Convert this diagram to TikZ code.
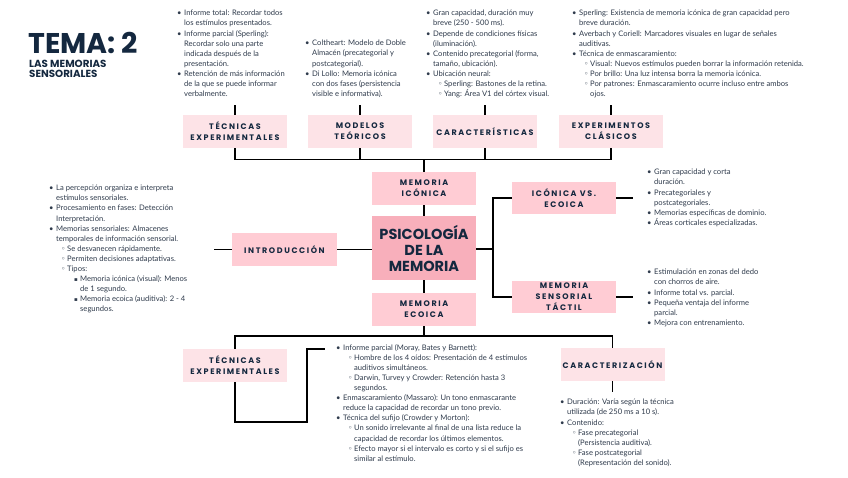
\documentclass[tikz,border=0pt]{standalone}
\usepackage{fontspec}
\setmainfont{Lato}
\newfontfamily\popp{Poppins}
\newfontfamily\boxf[LetterSpace=20]{Poppins}
\newfontfamily\symf{DejaVu Sans}
\definecolor{navy}{HTML}{14283F}
\definecolor{bodyc}{HTML}{2F3B4C}
\definecolor{pinkA}{HTML}{FDE3E7}
\definecolor{pinkB}{HTML}{FFCCD4}
\definecolor{pinkC}{HTML}{F8AFBB}
\newcommand\Ba{\makebox[7pt][l]{•}}
\newcommand\Ca{\hspace*{7pt}}
\newcommand\Bb{\hspace*{12pt}\makebox[6pt][l]{{\symf\fontsize{7.5}{7}\selectfont ◦}}}
\newcommand\Cb{\hspace*{18pt}}
\newcommand\Bc{\hspace*{25pt}\makebox[6pt][l]{{\symf\fontsize{5.5}{5}\selectfont ▪}}}
\newcommand\Cc{\hspace*{31pt}}
\tikzset{
  lbl/.style={rectangle, minimum width=104pt, minimum height=33pt, inner sep=0pt, align=center,
    text=navy, font=\boxf\bfseries\fontsize{8}{11}\selectfont},
  lite/.style={lbl, fill=pinkA},
  mid/.style={lbl, fill=pinkB},
  txt/.style={anchor=north west, inner sep=0pt, align=left, text=bodyc,
    font=\fontsize{7.6}{10.1}\selectfont},
  sub/.style={anchor=base west, inner sep=0pt, text depth=0pt, text=navy, font=\popp\bfseries\fontsize{10.3}{10}\selectfont},
  con/.style={draw=black, line width=1.6pt}
}
\begin{document}
\begin{tikzpicture}[x=1pt,y=-1pt]
\useasboundingbox (0,0) rectangle (848,477);
\fill[white] (0,0) rectangle (848,477);

% title
\node[anchor=base west, inner sep=0pt, text depth=0pt, text=navy, font=\popp\bfseries\fontsize{28.5}{28.5}\selectfont] (title) at (28,53) {TEMA: 2};
\node[sub] (sub1) at (29,67.5) {LAS MEMORIAS};
\node[sub] (sub2) at (29,77) {SENSORIALES};

% top boxes
\node[lite] (tecA) at (235,131.5) {TÉCNICAS\\EXPERIMENTALES};
\node[lite] (modA) at (360,131.5) {MODELOS\\TEÓRICOS};
\node[lite] (carA) at (485,131.5) {CARACTERÍSTICAS};
\node[lite] (expA) at (611,131.5) {EXPERIMENTOS\\CLÁSICOS};

% central column
\node[mid] (icon) at (424,188.5) {MEMORIA\\ICÓNICA};
\node[rectangle, fill=pinkC, minimum width=104pt, minimum height=64pt, inner sep=0pt, align=center,
  text=navy, font=\popp\bfseries\fontsize{14.5}{16}\selectfont] (center) at (424,248) {PSICOLOGÍA\\DE LA\\MEMORIA};
\node[mid] (ecoi) at (424,309.5) {MEMORIA\\ECOICA};
\node[mid, minimum width=105pt] (intro) at (284.5,249.5) {INTRODUCCIÓN};
\node[mid, minimum height=32pt] (icvs) at (564,198) {ICÓNICA VS.\\ECOICA};
\node[mid, minimum height=32pt] (tact) at (564,297) {MEMORIA\\SENSORIAL\\TÁCTIL};

% bottom boxes
\node[lite] (tecB) at (235,365.5) {TÉCNICAS\\EXPERIMENTALES};
\node[lite] (carB) at (612.5,364.5) {CARACTERIZACIÓN};

% text blocks
\node[txt] (txA) at (177,10) {\Ba Informe total: Recordar todos\\
\Ca los estímulos presentados.\\
\Ba Informe parcial (Sperling):\\
\Ca Recordar solo una parte\\
\Ca indicada después de la\\
\Ca presentación.\\
\Ba Retención de más información\\
\Ca de la que se puede informar\\
\Ca verbalmente.};

\node[txt] (txB) at (305,40) {\Ba Coltheart: Modelo de Doble\\
\Ca Almacén (precategorial y\\
\Ca postcategorial).\\
\Ba Di Lollo: Memoria icónica\\
\Ca con dos fases (persistencia\\
\Ca visible e informativa).};

\node[txt] (txC) at (426,10) {\Ba Gran capacidad, duración muy\\
\Ca breve (250 - 500 ms).\\
\Ba Depende de condiciones físicas\\
\Ca (iluminación).\\
\Ba Contenido precategorial (forma,\\
\Ca tamaño, ubicación).\\
\Ba Ubicación neural:\\
\Bb Sperling: Bastones de la retina.\\
\Bb Yang: Área V1 del córtex visual.};

\node[txt] (txD) at (572,10) {\Ba Sperling: Existencia de memoria icónica de gran capacidad pero\\
\Ca breve duración.\\
\Ba Averbach y Coriell: Marcadores visuales en lugar de señales\\
\Ca auditivas.\\
\Ba Técnica de enmascaramiento:\\
\Bb Visual: Nuevos estímulos pueden borrar la información retenida.\\
\Bb Por brillo: Una luz intensa borra la memoria icónica.\\
\Bb Por patrones: Enmascaramiento ocurre incluso entre ambos\\
\Cb ojos.};

\node[txt] (txE) at (49,185) {\Ba La percepción organiza e interpreta\\
\Ca estímulos sensoriales.\\
\Ba Procesamiento en fases: Detección\\
\Ca Interpretación.\\
\Ba Memorias sensoriales: Almacenes\\
\Ca temporales de información sensorial.\\
\Bb Se desvanecen rápidamente.\\
\Bb Permiten decisiones adaptativas.\\
\Bb Tipos:\\
\Bc Memoria icónica (visual): Menos\\
\Cc de 1 segundo.\\
\Bc Memoria ecoica (auditiva): 2 - 4\\
\Cc segundos.};

\node[txt] (txF) at (647,169) {\Ba Gran capacidad y corta\\
\Ca duración.\\
\Ba Precategoriales y\\
\Ca postcategoriales.\\
\Ba Memorias específicas de dominio.\\
\Ba Áreas corticales especializadas.};

\node[txt] (txG) at (647,269) {\Ba Estimulación en zonas del dedo\\
\Ca con chorros de aire.\\
\Ba Informe total vs. parcial.\\
\Ba Pequeña ventaja del informe\\
\Ca parcial.\\
\Ba Mejora con entrenamiento.};

\node[txt] (txH) at (336,344) {\Ba Informe parcial (Moray, Bates y Barnett):\\
\Bb Hombre de los 4 oídos: Presentación de 4 estímulos\\
\Cb auditivos simultáneos.\\
\Bb Darwin, Turvey y Crowder: Retención hasta 3\\
\Cb segundos.\\
\Ba Enmascaramiento (Massaro): Un tono enmascarante\\
\Ca reduce la capacidad de recordar un tono previo.\\
\Ba Técnica del sufijo (Crowder y Morton):\\
\Bb Un sonido irrelevante al final de una lista reduce la\\
\Cb capacidad de recordar los últimos elementos.\\
\Bb Efecto mayor si el intervalo es corto y si el sufijo es\\
\Cb similar al estímulo.};

\node[txt] (txI) at (560,399) {\Ba Duración: Varía según la técnica\\
\Ca utilizada (de 250 ms a 10 s).\\
\Ba Contenido:\\
\Bb Fase precategorial\\
\Cb (Persistencia auditiva).\\
\Bb Fase postcategorial\\
\Cb (Representación del sonido).};

% connectors: top
\coordinate (bus) at (0,159.5);
\coordinate (bbus) at (0,336);
\foreach \b in {tecA,modA,carA,expA} {
  \draw[con] (\b.north) -- ++(0,-10);
}
\draw[con] (tecA.south) -- (tecA.south |- bus) -- (expA.south |- bus) -- (expA.south);
\draw[con] (modA.south) -- (modA.south |- bus);
\draw[con] (carA.south) -- (carA.south |- bus);
\draw[con] (icon.north) -- (icon.north |- bus);
\draw[con] (icon.south) -- (center.north);
\draw[con] (center.south) -- (ecoi.north);
% left
\draw[con] (intro.east) -- (intro.east -| center.west);
\draw[con] (intro.west) -- ++(-18,0);
% right
\coordinate (rj) at (493,249);
\draw[con] (center.east |- rj) -- (rj);
\draw[con] (icvs.west) -| (rj) |- (tact.west);
\draw[con] (icvs.east) -- ++(17,0);
\draw[con] (tact.east) -- ++(17,0);
% bottom
\draw[con] (ecoi.south) -- (ecoi.south |- bbus);
\draw[con] (tecB.north) -- (tecB.north |- bbus) -- (carB.north |- bbus) -- (carB.north);
\draw[con] (tecB.south) -- ++(0,40) -- ++(72,0) -- ++(0,-73) -- ++(18,0);
\draw[con] (carB.south) -- ++(0,11);
\end{tikzpicture}
\end{document}
